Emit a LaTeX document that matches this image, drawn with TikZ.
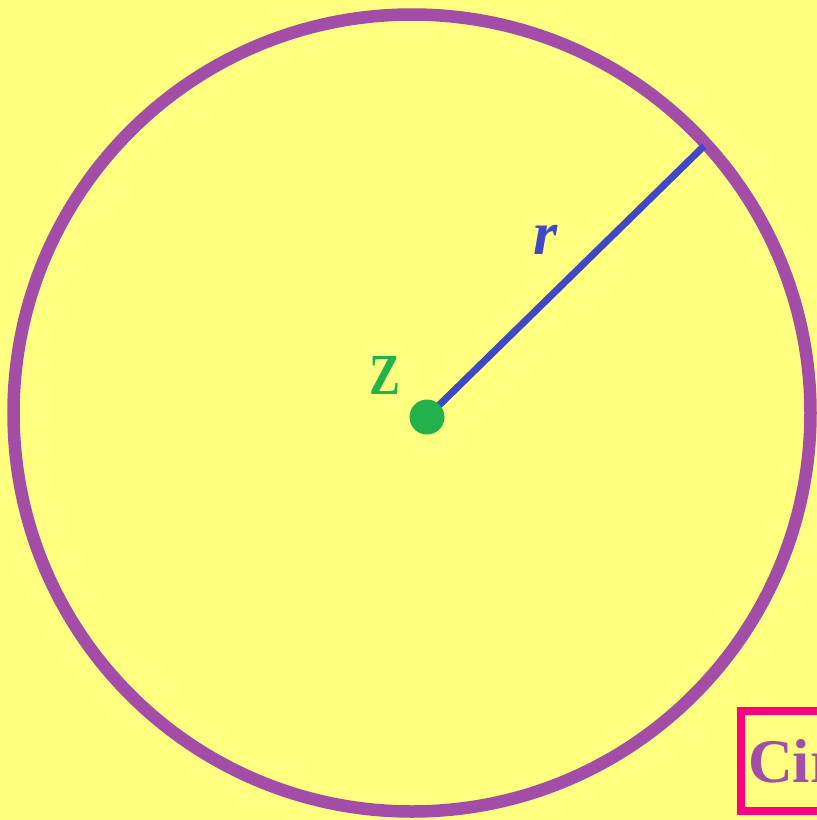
\documentclass[tikz,border=0pt]{standalone}
\usepackage{fontspec}
\setmainfont{Liberation Serif}
\definecolor{bgyellow}{RGB}{255,255,128}
\definecolor{circpurple}{RGB}{163,76,168}
\definecolor{radblue}{RGB}{64,72,200}
\definecolor{dotgreen}{RGB}{34,177,76}
\definecolor{boxpink}{RGB}{255,0,128}
\tikzset{
  circline/.style={draw=circpurple, line width=12.5pt},
  radline/.style={draw=radblue, line width=7pt},
  lbl/.style={font=\bfseries\fontsize{58}{62}\selectfont, inner sep=0pt},
}
\begin{document}
\begin{tikzpicture}[x=1pt,y=-1pt]
\useasboundingbox (0,0) rectangle (817,820);
\clip (0,0) rectangle (817,820);
\fill[bgyellow] (0,0) rectangle (817,820);
\draw[circline] (412,413) circle[radius=398.5];
\coordinate (Zc) at (427,417);
\coordinate (rim) at (704,146);
\draw[radline] (Zc) -- (rim);
\fill[dotgreen] (Zc) circle[radius=17.5];
\node[lbl, text=dotgreen, xscale=0.8] (Z) at (385,376) {Z};
\node[lbl, text=radblue, font=\bfseries\itshape\fontsize{62}{66}\selectfont] (r) at (546,240) {r};
\draw[draw=boxpink, line width=8pt] (741,711) rectangle (850,811);
\node[lbl, text=circpurple, anchor=base west, font=\bfseries\fontsize{62}{66}\selectfont] (cir) at (748,782) {Cir};
\end{tikzpicture}
\end{document}
